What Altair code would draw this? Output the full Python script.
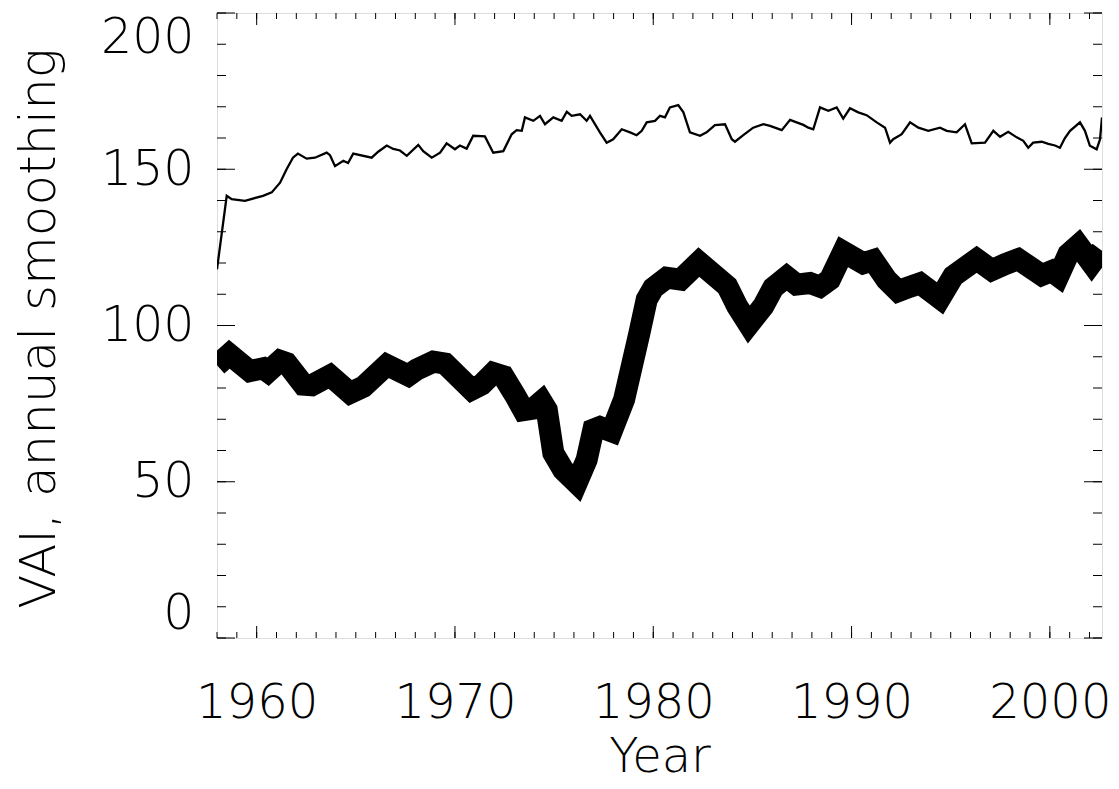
import altair as alt
import pandas as pd

# ---- data ----
thin_year = [1958.00, 1958.49, 1958.74, 1959.41, 1960.32, 1960.76, 1961.18, 1961.51, 1961.83, 1962.08,
             1962.52, 1962.94, 1963.53, 1963.70, 1963.95, 1964.37, 1964.61, 1964.87, 1965.80, 1966.13,
             1966.56, 1966.89, 1967.23, 1967.57, 1968.15, 1968.40, 1968.83, 1969.25, 1969.58, 1970.00,
             1970.25, 1970.59, 1970.92, 1971.51, 1971.93, 1972.44, 1972.86, 1973.11, 1973.37, 1973.53,
             1973.95, 1974.29, 1974.54, 1974.96, 1975.38, 1975.64, 1975.89, 1976.31, 1976.64, 1976.81,
             1977.31, 1977.65, 1977.98, 1978.41, 1978.83, 1979.16, 1979.42, 1979.67, 1980.09, 1980.34,
             1980.59, 1980.84, 1981.26, 1981.52, 1981.85, 1982.36, 1982.69, 1983.11, 1983.62, 1983.96,
             1984.12, 1984.54, 1985.04, 1985.55, 1985.89, 1986.48, 1986.90, 1987.23, 1987.57, 1987.82,
             1988.07, 1988.41, 1988.83, 1989.25, 1989.58, 1989.92, 1990.34, 1990.76, 1991.27, 1991.69,
             1991.94, 1992.10, 1992.53, 1992.95, 1993.37, 1993.87, 1994.46, 1994.80, 1995.30, 1995.72,
             1996.06, 1996.73, 1997.15, 1997.49, 1997.90, 1998.33, 1998.66, 1998.91, 1999.16, 1999.59,
             1999.92, 2000.26, 2000.51, 2000.76, 2001.02, 2001.52, 2001.77, 2002.02, 2002.36, 2002.53,
             2002.63]
thin_value = [118.0, 141.5, 140.4, 139.9, 141.5, 142.6, 145.7, 150.0, 153.7, 155.0,
              153.4, 153.7, 155.3, 154.5, 151.0, 152.7, 152.0, 155.0, 153.7, 155.6,
              157.6, 156.5, 156.0, 154.3, 157.8, 155.8, 153.7, 155.3, 158.3, 156.4,
              157.6, 156.6, 160.7, 160.5, 155.3, 155.8, 161.2, 162.5, 162.3, 166.6,
              165.5, 167.1, 164.4, 166.6, 165.5, 168.4, 167.1, 167.6, 165.5, 167.1,
              161.8, 158.5, 159.6, 162.8, 161.8, 160.9, 162.3, 165.0, 165.5, 167.1,
              166.6, 169.8, 170.5, 168.2, 161.8, 160.7, 161.8, 164.1, 164.4, 159.6,
              158.8, 160.9, 163.3, 164.4, 163.9, 162.5, 165.8, 165.0, 164.2, 163.3,
              162.8, 169.8, 168.7, 169.8, 166.2, 169.5, 168.2, 167.3, 165.0, 163.3,
              158.5, 159.6, 161.2, 165.0, 163.3, 162.3, 163.3, 162.3, 161.8, 164.4,
              158.3, 158.5, 162.3, 160.4, 162.0, 160.2, 159.1, 156.9, 158.5, 158.8,
              158.1, 157.6, 156.9, 160.0, 162.3, 165.0, 162.3, 157.5, 156.4, 159.6,
              166.6]

thick_year = [1958.00, 1958.62, 1959.66, 1960.33, 1960.57, 1961.18, 1961.51, 1962.35, 1962.78, 1963.70,
              1964.71, 1965.38, 1966.56, 1967.65, 1968.07, 1968.91, 1969.50, 1970.84, 1971.35, 1971.93,
              1972.44, 1973.03, 1973.45, 1973.95, 1974.37, 1974.63, 1974.96, 1975.46, 1976.14, 1976.64,
              1976.98, 1977.31, 1977.90, 1978.53, 1979.30, 1979.67, 1980.00, 1980.68, 1981.38, 1982.30,
              1983.73, 1984.23, 1984.82, 1985.55, 1986.05, 1986.73, 1987.23, 1987.90, 1988.41, 1988.91,
              1989.58, 1990.59, 1991.09, 1991.76, 1992.35, 1992.94, 1993.45, 1994.46, 1995.13, 1996.31,
              1997.07, 1997.74, 1998.41, 1999.59, 2000.09, 2000.43, 2000.93, 2001.44, 2002.11, 2002.60]
thick_value = [87.3, 90.8, 85.4, 86.3, 85.2, 88.7, 88.0, 81.1, 80.9, 84.0,
               78.4, 80.4, 87.4, 84.0, 85.9, 88.4, 87.8, 79.5, 81.1, 84.8,
               83.8, 77.7, 72.9, 73.4, 75.7, 73.0, 59.2, 53.8, 49.6, 57.0,
               66.7, 67.5, 66.1, 76.3, 97.5, 108.3, 112.0, 115.3, 114.7, 120.3,
               112.6, 106.2, 100.3, 106.2, 112.1, 115.6, 113.1, 113.6, 112.4, 114.7,
               123.6, 119.9, 120.9, 114.7, 111.0, 112.4, 113.5, 108.7, 115.8, 121.2,
               117.7, 119.6, 121.2, 116.1, 117.4, 115.8, 122.8, 125.7, 119.9, 124.1]

x_major = [1960, 1970, 1980, 1990, 2000]
x_minor = list(range(1958, 2003))
y_major = [0, 50, 100, 150, 200]
y_minor = list(range(0, 201, 10))

X_DOMAIN = [1958.0, 2002.63]
Y_DOMAIN = [0, 200]
W, H = 885, 625
FONT = "DejaVu Sans"
FW = 200

thin_df = pd.DataFrame({"Year": thin_year, "VAI": thin_value})
thick_df = pd.DataFrame({"Year": thick_year, "VAI": thick_value})

xs = alt.Scale(domain=X_DOMAIN, nice=False, zero=False)
ys = alt.Scale(domain=Y_DOMAIN, nice=False, zero=False)

xax = alt.Axis(
    values=x_major, format="d", title="Year", ticks=False, tickSize=0, domain=False, grid=False,
    labelFont=FONT, labelFontWeight=FW, labelFontSize=48, labelColor="black",
    labelBaseline="alphabetic", labelPadding=79, labelFlush=False,
    titleFont=FONT, titleFontWeight=FW, titleFontSize=48, titleColor="black",
    titleBaseline="alphabetic", titleY=133, titleX=W / 2, titleAlign="center")
yax = alt.Axis(
    values=y_major, title="VAI, annual smoothing", ticks=False, tickSize=0, domain=False, grid=False,
    labelFont=FONT, labelFontWeight=FW, labelFontSize=49, labelColor="black",
    labelPadding=23, labelFlush=True,
    titleFont=FONT, titleFontWeight=FW, titleFontSize=50, titleColor="black",
    titleBaseline="alphabetic", titleAngle=-90, titleX=-163, titleY=315, titleAlign="center")

thin = alt.Chart(thin_df).mark_line(color="black", strokeWidth=2.3, clip=True).encode(
    x=alt.X("Year:Q", scale=xs, axis=xax, title="Year"),
    y=alt.Y("VAI:Q", scale=ys, axis=yax, title="VAI, annual smoothing"),
)

thick = alt.Chart(thick_df).mark_line(color="black", strokeWidth=22, clip=True,
                                       strokeJoin="miter", strokeMiterLimit=2).encode(
    x=alt.X("Year:Q", scale=xs, axis=xax, title="Year"),
    y=alt.Y("VAI:Q", scale=ys, axis=yax, title="VAI, annual smoothing"),
)

def xticks(vals, length):
    d = pd.DataFrame({"Year": vals})
    bottom = alt.Chart(d).mark_rule(color="black", strokeWidth=1).encode(
        x=alt.X("Year:Q", scale=xs, axis=xax, title="Year"), y=alt.value(H), y2=alt.value(H - length))
    top = alt.Chart(d).mark_rule(color="black", strokeWidth=1).encode(
        x=alt.X("Year:Q", scale=xs, axis=xax, title="Year"), y=alt.value(0), y2=alt.value(length))
    return [bottom, top]

def yticks(vals, length):
    d = pd.DataFrame({"VAI": vals})
    left = alt.Chart(d).mark_rule(color="black", strokeWidth=1).encode(
        y=alt.Y("VAI:Q", scale=ys, axis=yax, title="VAI, annual smoothing"), x=alt.value(0), x2=alt.value(length))
    right = alt.Chart(d).mark_rule(color="black", strokeWidth=1).encode(
        y=alt.Y("VAI:Q", scale=ys, axis=yax, title="VAI, annual smoothing"), x=alt.value(W), x2=alt.value(W - length))
    return [left, right]

layers = [thin, thick] + xticks(x_minor, 6) + xticks(x_major, 12) + yticks(y_minor, 9) + yticks(y_major, 18)

chart = alt.layer(*layers).properties(
    width=W, height=H,
    autosize=alt.AutoSizeParams(type="none"),
    padding={"left": 209, "top": 5, "right": 9, "bottom": 143},
).configure_view(stroke="black", strokeWidth=1.2).configure(background="white")

chart.save("out.html", embed_options={"renderer": "svg", "actions": False})
